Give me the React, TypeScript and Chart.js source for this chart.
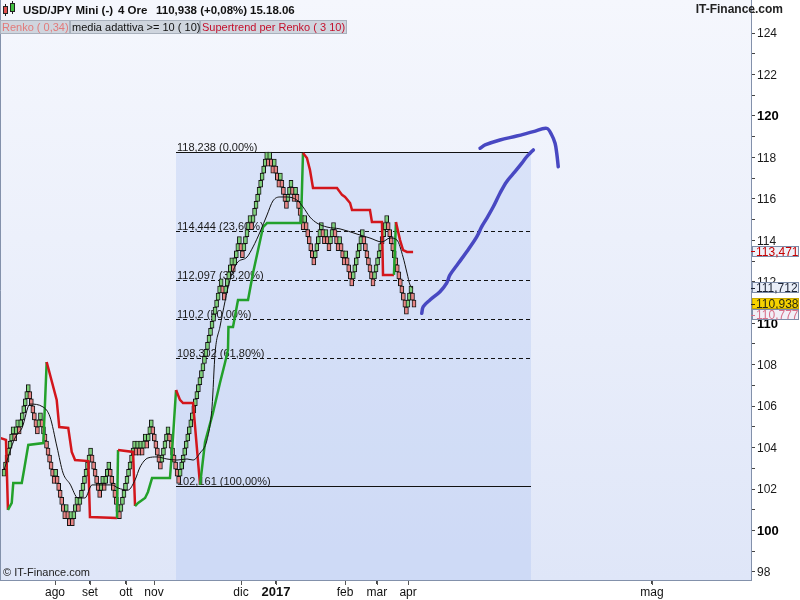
import React, { useEffect, useRef } from 'react';
import { Chart, registerables } from 'chart.js';

Chart.register(...registerables);

// ---------------- data ----------------
const RENKO_SIZE = 0.34;
const RENKO_FIRST_LOW = 102.617; // bottom of the first visible brick
// consecutive brick runs (+ up bricks, - down bricks)
const renkoRuns = [
  7, -1, 2, -1, 6,
  -6, 2, -9, 1, -6, 1, -2, 1, -1,
  3, -1, 8,
  -6,
  2, -1, 3,
  -7,
  10, -1, 1, -1, 1, -1, 2, -1, 3,
  -6,
  5,
  -7,
  28, -2, 5, -1, 4, -2, 5, -1, 10,
  -1, 1, -2, 1, -3, 1, -4,
  3,
  -2, 1, -5, 1, -6,
  5,
  -2, 1, -2,
  3,
  -3, 1, -3, 1, -4,
  7,
  -7,
  9,
  -13,
  3,
  -2,
];

// adaptive moving average (brick index, price)
const maIdx = [0, 7.2, 11.9, 17.1, 25.7, 30.3, 34.9, 38.9, 43.5, 48.7, 53.3, 58.0, 71.1, 75.1, 81.7, 86.3, 89.6, 94.8, 100.8, 107.3, 113.9, 120.5, 124.5, 129.1, 133.7, 137.0, 139.0, 142.2, 148.8, 153.4, 160.0, 164.0, 168.6, 173.2, 177.1, 181.8, 186.4, 192.9, 196.9, 201.5, 206.1, 212.7, 221.3, 232.5, 241.0, 248.9, 254.2, 258.8, 262.8, 265.4, 267.4, 269.4];
const maVal = [102.92, 104.46, 104.95, 106.10, 105.96, 105.48, 104.03, 102.77, 102.24, 101.57, 101.57, 102.20, 102.20, 102.05, 101.95, 102.44, 103.06, 103.50, 103.55, 103.45, 103.40, 103.45, 103.40, 103.74, 104.37, 105.96, 108.56, 109.82, 112.08, 112.90, 113.19, 113.68, 114.40, 115.22, 115.90, 116.09, 116.09, 115.94, 115.61, 115.12, 114.83, 114.64, 114.55, 114.30, 114.11, 113.92, 114.11, 114.01, 113.19, 112.42, 111.84, 111.70];

// supertrend (brick index, price, trend: 1 bullish / -1 bearish)
const stIdx = [-2.6, 1.3, 2.6, 5.1, 6.1, 11.7, 13.2, 16.0, 25.9, 27.0, 28.1, 34.7, 36.4, 42.3, 44.6, 46.8, 55.5, 56.6, 74.4, 75.1, 85.0, 86.3, 88.3, 92.9, 94.8, 97.5, 109.3, 111.3, 113.3, 115.9, 117.9, 124.5, 129.1, 132.4, 137.6, 142.2, 145.5, 147.5, 147.8, 150.8, 154.1, 160.7, 164.0, 167.3, 170.6, 173.2, 195.6, 196.9, 199.5, 201.5, 203.5, 219.3, 222.6, 224.6, 227.9, 229.2, 241.0, 242.3, 248.9, 249.6, 256.8, 258.1, 260.8, 262.8, 265.4, 269.4];
const stVal = [104.46, 104.37, 100.99, 101.33, 102.29, 102.29, 102.92, 104.13, 104.22, 106.15, 108.13, 106.30, 104.99, 104.95, 103.79, 103.40, 103.35, 100.65, 100.60, 103.88, 103.79, 101.18, 101.33, 101.57, 101.86, 102.53, 102.53, 104.51, 106.78, 106.30, 106.15, 106.15, 102.20, 104.27, 105.67, 107.12, 108.08, 108.71, 109.82, 109.82, 111.12, 111.12, 112.42, 113.53, 114.64, 114.83, 114.83, 118.21, 117.97, 117.39, 116.52, 116.52, 116.19, 116.09, 115.80, 115.46, 115.46, 114.88, 114.88, 112.33, 112.33, 114.88, 114.01, 113.53, 113.44, 113.44];
const stTrend = [-1, -1, -1, 1, 1, 1, 1, 1, 1, 1, 1, -1, -1, -1, -1, -1, -1, -1, -1, 1, -1, -1, 1, 1, 1, 1, 1, 1, 1, -1, -1, -1, -1, 1, 1, 1, 1, 1, 1, 1, 1, 1, 1, 1, 1, 1, 1, 1, -1, -1, -1, -1, -1, -1, -1, -1, -1, -1, -1, -1, -1, 1, -1, -1, -1, -1];

// Fibonacci retracement
const fibValues = [118.238, 114.444, 112.097, 110.2, 108.302, 102.161];
const fibLabels = ['118,238 (0,00%)', '114,444 (23,60%)', '112,097 (38,20%)', '110,2 (50,00%)', '108,302 (61,80%)', '102,161 (100,00%)'];
const fibFrom = 113.3;
const fibTo = 347.1;

// free-hand strokes
const stroke1Idx = [275.1, 276.1, 280.5, 287.1, 291.5, 293.7, 299.2, 304.7, 311.3, 314.6, 317.9, 322.2, 326.6, 331.0, 336.5, 340.9, 344.2, 346.4, 348.6];
const stroke1Val = [110.48, 110.80, 111.12, 111.52, 111.93, 112.33, 112.89, 113.45, 114.17, 114.66, 115.06, 115.62, 116.27, 116.83, 117.31, 117.71, 118.03, 118.20, 118.36];
const stroke2Idx = [313.5, 316.8, 326.6, 337.6, 348.6, 357.4, 360.7, 362.9, 364.0, 365.0];
const stroke2Val = [118.44, 118.60, 118.84, 119.03, 119.24, 119.40, 119.08, 118.68, 118.20, 117.55];

// axes
const monthLabels = ['ago', 'set', 'ott', 'nov', 'dic', '2017', 'feb', 'mar', 'apr', 'mag'];
const monthPos = [33.6, 56.6, 80.3, 98.8, 156.1, 179.1, 224.6, 245.6, 266.1, 426.7];
const yTicks = [98, 99, 100, 101, 102, 103, 104, 105, 106, 107, 108, 109, 110, 111, 112, 113, 114, 115, 116, 117, 118, 119, 120, 121, 122, 123, 124, 125];
const X_MIN = -2.634;
const X_MAX = 491.93;
const Y_MIN = 97.613;
const Y_MAX = 125.592;

// last-value tags on the price axis
const tagValues = [113.471, 111.712, 110.938, 110.777];
const tagLabels = ['113,471', '111,712', '110,938', '110,777'];

// ---------------- styles ----------------
const FONT = '"Liberation Sans", Arial, sans-serif';
const UP_FILL = '#7fd07b';
const DOWN_FILL = '#e68585';
const ST_RED = '#d3161c';
const ST_GREEN = '#23a12b';
const DRAW_BLUE = '#4848c2';
const tagStyles = [
  { text: '#c80000', bg: '#eef1f9', border: '#7d8ca8' },
  { text: '#1b2233', bg: '#e9eef8', border: '#7d8ca8' },
  { text: '#2a2a10', bg: '#f6d200', border: '#c9a800' },
  { text: '#d8708a', bg: '#f1eff7', border: '#7d8ca8' },
];

function buildBricks() {
  const out: { x: number; y: [number, number]; up: boolean }[] = [];
  let lo = RENKO_FIRST_LOW - RENKO_SIZE;
  let hi = RENKO_FIRST_LOW;
  let i = 0;
  for (const run of renkoRuns) {
    const n = Math.abs(run);
    for (let k = 0; k < n; k++) {
      if (run > 0) {
        lo = hi;
        hi = hi + RENKO_SIZE;
      } else {
        hi = lo;
        lo = lo - RENKO_SIZE;
      }
      out.push({ x: i++, y: [lo, hi], up: run > 0 });
    }
  }
  return out;
}

const decor = {
  id: 'decor',
  beforeDraw(chart: any) {
    const { ctx, chartArea: a, scales } = chart;
    const xs = scales.x;
    const ys = scales.y;
    ctx.save();
    ctx.fillStyle = '#ffffff';
    ctx.fillRect(0, 0, chart.width, chart.height);
    const g = ctx.createLinearGradient(0, a.top, 0, a.bottom);
    g.addColorStop(0, '#f5f7fd');
    g.addColorStop(1, '#dfe6f8');
    ctx.fillStyle = g;
    ctx.fillRect(a.left, a.top, a.right - a.left, a.bottom - a.top);

    const fx0 = Math.round(xs.getPixelForValue(fibFrom));
    const fx1 = Math.round(xs.getPixelForValue(fibTo));
    const fyTop = Math.round(ys.getPixelForValue(fibValues[0]));
    ctx.fillStyle = 'rgba(160,188,240,0.28)';
    ctx.fillRect(fx0, fyTop, fx1 - fx0, a.bottom - fyTop);

    ctx.font = `11px ${FONT}`;
    ctx.textBaseline = 'alphabetic';
    ctx.textAlign = 'left';
    fibValues.forEach((v, i) => {
      const y = Math.round(ys.getPixelForValue(v)) + 0.5;
      ctx.beginPath();
      ctx.strokeStyle = '#111';
      ctx.lineWidth = 1;
      const solid = i === 0 || i === fibValues.length - 1;
      ctx.setLineDash(solid ? [] : [4, 3]);
      ctx.moveTo(fx0, y);
      ctx.lineTo(fx1, y);
      ctx.stroke();
      ctx.setLineDash([]);
      ctx.fillStyle = '#1a1a1a';
      ctx.fillText(fibLabels[i], fx0 + 1, y - 2);
    });
    ctx.restore();
  },
  afterDraw(chart: any) {
    const { ctx, chartArea: a, scales } = chart;
    const xs = scales.x;
    const ys = scales.y;
    ctx.save();
    // plot frame
    ctx.strokeStyle = '#8391ab';
    ctx.lineWidth = 1;
    ctx.beginPath();
    ctx.moveTo(0.5, a.top);
    ctx.lineTo(0.5, a.bottom + 0.5);
    ctx.stroke();

    // month tick marks
    ctx.strokeStyle = '#555';
    ctx.beginPath();
    monthPos.forEach((p) => {
      const px = Math.round(xs.getPixelForValue(p)) + 0.5;
      ctx.moveTo(px, a.bottom + 1);
      ctx.lineTo(px, a.bottom + 5);
    });
    ctx.stroke();

    // y labels
    ctx.textBaseline = 'middle';
    ctx.textAlign = 'left';
    yTicks.forEach((v) => {
      if (v % 2 !== 0) return;
      const bold = v % 10 === 0;
      ctx.font = `${bold ? 'bold 13px' : '12px'} ${FONT}`;
      ctx.fillStyle = bold ? '#000' : '#1a1a1a';
      ctx.fillText(String(v), a.right + 6, ys.getPixelForValue(v) + 1);
    });

    // value tags
    const H = 11;
    let prev = -Infinity;
    tagValues.forEach((v, i) => {
      let cy = ys.getPixelForValue(v);
      if (cy < prev + H) cy = prev + H;
      prev = cy;
      const st = tagStyles[i];
      const top = Math.round(cy - H / 2);
      ctx.fillStyle = st.bg;
      ctx.fillRect(a.right + 1, top, 47, H);
      ctx.strokeStyle = st.border;
      ctx.strokeRect(a.right + 1.5, top + 0.5, 46, H - 1);
      ctx.fillStyle = st.text;
      ctx.beginPath();
      ctx.moveTo(a.right, Math.round(cy) + 0.5);
      ctx.lineTo(a.right + 4, Math.round(cy) + 0.5);
      ctx.strokeStyle = st.text;
      ctx.stroke();
      ctx.font = `12px ${FONT}`;
      ctx.fillText(tagLabels[i], a.right + 5, cy + 1);
    });

    // header: icon
    ctx.fillStyle = '#e05050';
    ctx.fillRect(3, 6, 5, 8);
    ctx.strokeStyle = '#222';
    ctx.strokeRect(3.5, 6.5, 4, 7);
    ctx.fillStyle = '#40c040';
    ctx.fillRect(10, 3, 5, 9);
    ctx.strokeRect(10.5, 3.5, 4, 8);
    ctx.beginPath();
    ctx.moveTo(5.5, 4); ctx.lineTo(5.5, 6);
    ctx.moveTo(5.5, 14); ctx.lineTo(5.5, 16);
    ctx.moveTo(12.5, 1); ctx.lineTo(12.5, 3);
    ctx.moveTo(12.5, 12); ctx.lineTo(12.5, 14);
    ctx.stroke();

    ctx.textBaseline = 'middle';
    ctx.fillStyle = '#111';
    ctx.font = `bold 11.5px ${FONT}`;
    ctx.fillText('USD/JPY Mini (-)', 23, 11);
    ctx.fillText('4 Ore', 118, 11);
    ctx.fillText('110,938 (+0,08%)', 156, 11);
    ctx.fillText('15.18.06', 250, 11);

    // legend boxes
    const boxes = [
      { x: 0, w: 70, t: 'Renko ( 0,34)', c: '#e27a7a' },
      { x: 70, w: 130, t: 'media adattiva >= 10 ( 10)', c: '#111' },
      { x: 200, w: 147, t: 'Supertrend per Renko ( 3 10)', c: '#c4102c' },
    ];
    ctx.font = `11px ${FONT}`;
    boxes.forEach((b) => {
      ctx.fillStyle = '#cfd5de';
      ctx.fillRect(b.x, 20, b.w, 14);
      ctx.strokeStyle = '#a9b1bd';
      ctx.strokeRect(b.x + 0.5, 20.5, b.w - 1, 13);
      ctx.fillStyle = b.c;
      ctx.fillText(b.t, b.x + 2, 27.5);
    });

    ctx.fillStyle = '#222';
    ctx.font = `bold 12px ${FONT}`;
    ctx.textAlign = 'right';
    ctx.fillText('IT-Finance.com', 783, 10);
    ctx.textAlign = 'left';
    ctx.font = `11px ${FONT}`;
    ctx.fillText('\u00A9 IT-Finance.com', 3, 573);
    ctx.restore();
  },
};

export default function App() {
  const ref = useRef<HTMLCanvasElement>(null);
  useEffect(() => {
    const canvas = ref.current;
    if (!canvas) return;
    const bricks = buildBricks();
    const chart = new Chart(canvas, {
      type: 'bar',
      data: {
        datasets: [
          {
            type: 'line',
            data: stroke1Idx.map((x, i) => ({ x, y: stroke1Val[i] })),
            borderColor: DRAW_BLUE,
            borderWidth: 3.5,
            pointRadius: 0,
            tension: 0.35,
            borderCapStyle: 'round',
            borderJoinStyle: 'round',
            order: 1,
          } as any,
          {
            type: 'line',
            data: stroke2Idx.map((x, i) => ({ x, y: stroke2Val[i] })),
            borderColor: DRAW_BLUE,
            borderWidth: 3.5,
            pointRadius: 0,
            tension: 0.35,
            borderCapStyle: 'round',
            borderJoinStyle: 'round',
            order: 1,
          } as any,
          {
            type: 'line',
            data: maIdx.map((x, i) => ({ x, y: maVal[i] })),
            borderColor: '#111',
            borderWidth: 1,
            pointRadius: 0,
            cubicInterpolationMode: 'monotone',
            order: 2,
          } as any,
          {
            type: 'line',
            data: stIdx.map((x, i) => ({ x, y: stVal[i] })),
            borderColor: ST_RED,
            borderWidth: 2.5,
            pointRadius: 0,
            tension: 0,
            segment: {
              borderColor: (c: any) => (stTrend[c.p1DataIndex] > 0 ? ST_GREEN : ST_RED),
            },
            order: 3,
          } as any,
          {
            type: 'bar',
            data: bricks.map((b) => ({ x: b.x, y: b.y })),
            backgroundColor: bricks.map((b) => (b.up ? UP_FILL : DOWN_FILL)),
            borderColor: '#141414',
            borderWidth: 1,
            borderSkipped: false,
            barThickness: 4,
            grouped: false,
            order: 4,
          } as any,
        ],
      },
      options: {
        animation: false,
        responsive: false,
        maintainAspectRatio: false,
        devicePixelRatio: 1,
        events: [],
        layout: { padding: 0 },
        plugins: { legend: { display: false }, tooltip: { enabled: false } },
        scales: {
          x: {
            type: 'linear',
            position: 'bottom',
            min: X_MIN,
            max: X_MAX,
            offset: false,
            afterBuildTicks: (s: any) => {
              s.ticks = monthPos.map((v) => ({ value: v }));
            },
            afterFit: (s: any) => {
              s.height = 20;
            },
            ticks: {
              autoSkip: false,
              maxRotation: 0,
              padding: 1,
              color: '#111',
              font: (c: any) => ({
                family: FONT,
                size: monthLabels[c.index] === '2017' ? 13 : 12,
                weight: monthLabels[c.index] === '2017' ? 'bold' : 'normal',
              }),
              callback: (_v: any, i: number) => monthLabels[i],
            },
            grid: { drawOnChartArea: false, drawTicks: true, tickLength: 4, color: '#444', offset: false },
            border: { display: true, color: '#8391ab' },
          },
          y: {
            type: 'linear',
            position: 'right',
            min: Y_MIN,
            max: Y_MAX,
            afterBuildTicks: (s: any) => {
              s.ticks = yTicks.map((v) => ({ value: v }));
            },
            afterFit: (s: any) => {
              s.width = 49;
            },
            ticks: { display: false },
            grid: { drawOnChartArea: false, drawTicks: true, tickLength: 4, color: '#444', offset: false },
            border: { display: true, color: '#8391ab' },
          },
        },
      } as any,
      plugins: [decor],
    });
    return () => chart.destroy();
  }, []);
  return (
    <div style={{ position: 'fixed', left: 0, top: 0, width: 800, height: 600 }}>
      <canvas ref={ref} width={800} height={600} style={{ width: 800, height: 600, display: 'block' }} />
    </div>
  );
}
